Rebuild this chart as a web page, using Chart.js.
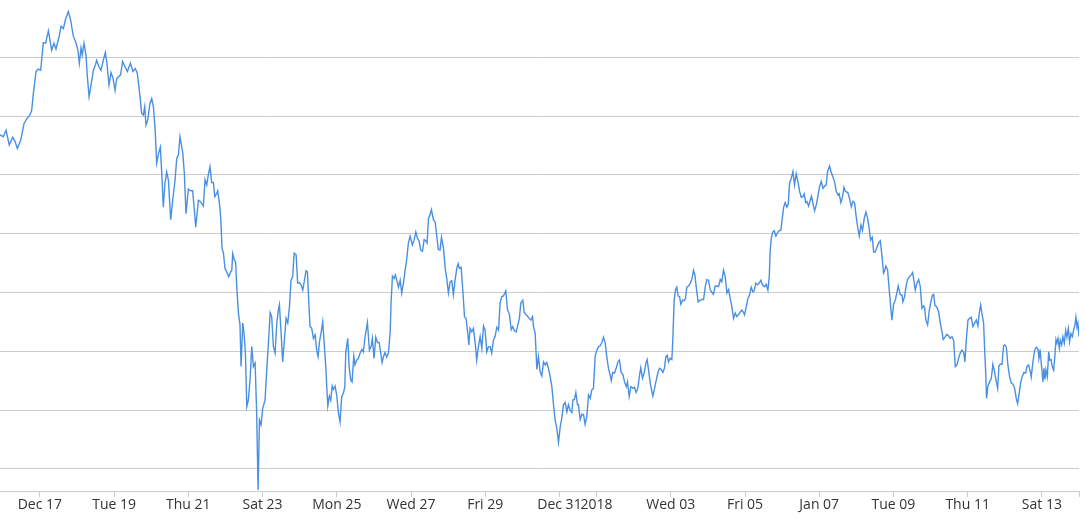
<!DOCTYPE html>
<html>
<head>
<meta charset="utf-8">
<title>Price</title>
<script src="https://cdn.jsdelivr.net/npm/chart.js@4.4.1/dist/chart.umd.min.js"></script>
<style>
  html, body { margin: 0; padding: 0; background: #fff; }
  #wrap { width: 1086px; height: 519px; position: relative; }
</style>
</head>
<body>
<div id="wrap"><canvas id="chart"></canvas></div>
<script>
// hours since Dec 15 00:00
const hours = [
  22.2, 24.3, 26.1, 28.2, 30.4, 31.9, 33.4, 35.6, 37.7, 39.4, 41.6, 42.7, 43.8, 45.5, 47.0, 48.5, 50.2, 51.7, 53.5, 55.6,
  57.1, 58.4, 60.4, 61.7, 63.2, 64.7, 66.4, 67.9, 69.6, 71.4, 72.6, 73.5, 74.6, 75.4, 76.5, 77.8, 78.7, 79.8, 81.1, 82.6,
  83.9, 84.7, 86.2, 87.5, 89.0, 90.3, 91.2, 92.7, 94.0, 95.3, 96.6, 97.7, 99.2, 100.2, 101.5, 103.0, 104.6, 106.5, 108.2, 109.7,
  111.0, 112.3, 113.8, 114.9, 115.8, 116.6, 117.7, 119.2, 120.3, 121.4, 122.5, 123.5, 124.8, 125.9, 126.8, 127.8, 128.9, 130.0, 131.1, 132.6,
  133.9, 135.4, 136.5, 137.6, 138.6,
  140.4, 141.4, 142.5, 144.0, 145.5, 146.8, 147.7, 148.8, 150.5, 152.0, 153.7, 154.8, 155.9, 156.9, 158.0, 159.1, 160.2, 161.1, 162.3, 163.0,
  164.1, 164.9, 165.8, 166.7, 167.7, 168.8, 170.1, 171.4, 172.1, 172.7, 173.8, 174.6, 175.3, 176.4, 177.4, 178.1, 179.2, 180.0, 180.9, 181.8,
  182.8, 183.9, 185.0, 186.1, 187.2, 188.2, 189.1, 190.0, 191.0, 192.1, 193.6, 194.7, 195.8, 196.9, 197.9, 199.0, 200.1, 201.2, 202.2, 202.9,
  204.0, 205.0, 206.1, 207.2, 208.3, 209.4, 210.4, 211.5, 212.4, 213.7, 214.7, 215.8, 216.9, 218.0, 219.1, 220.1, 221.0, 221.9, 222.7, 223.8,
  224.9, 226.0, 227.0, 227.9, 228.8, 229.8, 230.9, 232.0, 232.9, 233.5, 234.2, 235.2, 236.1, 237.0, 237.8, 238.9, 240.0, 241.1, 242.1, 243.2,
  244.3, 245.2, 245.8, 247.1, 248.0, 249.0, 249.9, 251.0, 251.8, 252.9, 254.0, 255.1,
  256.2, 257.2, 258.3, 259.8, 261.1, 262.2, 263.0, 264.1, 265.2, 266.3, 267.4, 268.4, 269.3, 270.2, 271.2, 272.3, 273.4, 274.5, 275.1, 276.0,
  277.1, 277.9, 278.8, 279.9, 281.0, 282.0, 283.1, 284.2, 285.3, 286.3, 287.4, 288.9, 290.0, 291.1, 292.2, 293.2, 294.3, 295.4, 296.5, 297.5,
  298.4, 299.3, 300.3, 301.2, 302.5, 303.6, 304.7, 305.7, 306.8, 307.7, 309.0, 310.1, 311.1, 312.2, 313.3, 314.4, 315.4, 316.5, 317.6, 318.5,
  319.3, 320.4, 321.5, 322.6, 323.6, 324.5, 325.4, 326.2, 327.3, 328.4, 329.5, 330.5, 331.6, 332.7, 333.8, 334.9, 335.9, 337.0, 338.1, 339.2,
  340.2, 341.3, 342.4, 343.5, 344.6, 345.6, 346.7, 347.8, 349.3, 350.4, 351.7, 352.8, 353.8, 354.9, 356.0, 357.1, 358.1, 359.0, 360.3, 361.2,
  362.2, 363.3, 364.4, 365.5, 366.6, 367.2, 368.3, 369.4, 370.4, 371.5,
  372.6, 373.7, 374.8, 375.8, 376.9, 378.0, 379.1, 380.1, 381.2, 382.3, 383.4, 384.5, 385.5, 386.6, 387.7, 388.8, 389.8, 390.9, 392.0, 392.7,
  393.7, 394.6, 395.7, 396.3, 397.4, 398.5, 399.6, 400.6, 401.7, 402.8, 403.9, 404.9, 406.0, 407.1, 408.2, 409.3, 410.3, 411.4, 412.5, 413.6,
  414.6, 415.7, 416.8, 417.5, 418.5, 419.6, 420.7, 421.8, 422.8, 423.9, 425.0, 426.1, 427.2, 428.0, 429.1, 430.2, 431.5, 432.5, 433.6, 434.7,
  435.8, 436.6, 437.7, 438.8, 440.1, 440.7, 441.6, 442.7, 443.8, 444.4, 445.5, 446.6, 447.6, 448.7, 449.8, 450.9, 451.9, 452.8, 453.7, 454.5,
  455.6, 456.7, 457.3, 458.2, 459.1, 459.9, 460.8, 461.7, 462.5, 463.6, 464.7, 465.5, 466.4, 467.5, 468.6, 469.6, 470.7, 471.6, 472.7, 473.7,
  475.0, 476.1, 477.2, 478.3, 479.3, 480.4, 481.5, 482.6, 483.6, 484.7, 485.8, 486.9, 488.0,
  489.0, 490.1, 491.2, 492.3, 493.4, 494.4, 495.5, 496.6, 497.7, 498.7, 499.8, 500.9, 502.0, 503.1, 503.7, 504.8, 505.9, 507.0, 508.0, 509.1,
  510.0, 511.0, 512.1, 513.2, 514.3, 515.3, 516.6, 517.7, 518.8, 519.7, 520.3, 521.0, 522.0, 522.9, 524.0, 525.1, 526.1, 527.2, 528.1, 529.0,
  530.0, 531.1, 532.0, 532.8, 533.9, 535.0, 536.0, 537.1, 538.2, 539.3, 540.4, 541.4, 542.3, 543.2, 544.0, 545.1, 546.2, 547.0, 547.9, 549.0,
  550.1, 551.1, 552.2, 553.3, 554.4, 555.5, 556.5, 557.4, 558.7, 559.8, 560.8, 561.9, 563.0, 564.1, 564.9, 566.0, 567.1, 568.0, 569.0, 570.5,
  571.6, 572.7, 573.8, 574.9, 575.9, 577.0, 577.9, 579.0, 580.0, 581.1, 582.2, 583.3, 584.3, 585.2, 586.3, 587.2, 588.2, 589.3, 590.4, 591.5,
  592.5, 593.6, 594.3, 595.1, 596.2, 597.1, 598.2, 599.0, 600.1, 601.2, 602.3, 603.1, 604.4,
  605.5, 606.1, 607.2, 608.3, 609.1, 610.4, 611.5, 612.4, 613.0, 614.1, 615.2, 616.3, 617.3, 618.4, 619.5, 620.1, 621.0, 622.1, 623.2, 624.2,
  625.3, 626.0, 626.8, 628.1, 629.2, 630.3, 631.4, 632.2, 633.3, 634.6, 635.7, 636.7, 637.8, 638.9, 640.0, 641.1, 642.1, 643.2, 644.3, 645.4,
  646.2, 647.1, 648.2, 649.3, 650.3, 651.4, 652.5, 653.6, 654.6, 655.5, 656.4, 657.2, 658.3, 658.9, 659.6, 660.2, 661.1, 662.2, 663.3, 664.3,
  665.4, 666.3, 667.4, 668.2, 669.1, 670.2, 671.2, 671.9, 673.0, 674.0, 675.1, 676.2, 677.3, 678.4, 679.4, 680.3, 681.2, 682.2, 683.3, 684.4,
  685.5, 686.3, 687.4, 688.5, 689.1, 690.2, 691.3, 692.4, 693.5, 694.1, 695.0, 695.8, 696.7, 697.3, 698.0, 698.6, 699.5, 700.4, 701.0, 701.9,
  702.7, 703.6, 704.4, 705.1, 705.7, 706.4, 707.3, 707.9, 708.8, 709.6, 710.5, 711.4, 712.2, 713.1, 713.9, 714.8, 715.7, 716.5, 717.4, 718.0,
  718.7, 719.3, 720.0
];

const prices = [
  17680, 17650, 17760, 17510, 17640, 17570, 17450, 17590, 17870, 17950, 18020, 18100, 18390, 18760, 18800, 18780, 19250, 19240, 19450, 19120,
  19240, 19140, 19350, 19530, 19490, 19660, 19780, 19630, 19360, 19240, 19120, 18900, 19160, 19040, 19240, 19040, 18670, 18330, 18530, 18780,
  18870, 18950, 18840, 18780, 18950, 19080, 18930, 18530, 18740, 18640, 18440, 18640, 18680, 18700, 18930, 18840, 18760, 18900, 18760, 18810,
  18730, 18440, 18050, 18020, 18160, 17850, 17930, 18220, 18300, 18160, 17790, 17200, 17370, 17470, 17030, 16450, 16860, 17050, 16910, 16240,
  16570, 16910, 17280, 17340, 17650,
  17370, 17030, 16340, 16760, 16730, 16730, 16460, 16110, 16570, 16540, 16470, 16920, 16830, 17000, 17140, 16870, 16870, 16630, 16680, 16730,
  16520, 16290, 15750, 15670, 15410, 15350, 15270, 15350, 15380, 15660, 15550, 15510, 15100, 14650, 14450, 13740, 14480, 14310, 13970, 13060,
  13170, 13510, 14080, 13740, 13800, 12940, 11640, 12830, 12750, 13030, 13170, 13680, 14140, 14660, 14590, 14080, 13970, 14480, 14700, 14790,
  14310, 13820, 14190, 14560, 14480, 14760, 15210, 15270, 15670, 15640, 15160, 15170, 15130, 15040, 15210, 15370, 15350, 14840, 14420, 14390,
  14220, 14280, 14020, 13910, 14160, 14310, 14500, 14080, 13740, 13400, 13070, 13240, 13170, 13410, 13350, 13410, 13240, 12950, 12800, 13230,
  13290, 13400, 13970, 14220, 13740, 13510, 13480, 13920, 13770, 13850, 13880, 13970,
  14030, 13990, 14250, 14490, 14020, 14080, 14220, 13880, 14240, 14150, 14150, 13970, 13810, 13910, 13980, 13900, 13970, 14310, 14820, 15280,
  15240, 15300, 15210, 15090, 15210, 14990, 15160, 15380, 15580, 15840, 15960, 15810, 15890, 16030, 15920, 15880, 15720, 15700, 15900, 15880,
  15840, 16260, 16320, 16410, 16240, 16200, 15950, 15730, 15720, 15940, 15750, 15410, 15240, 14990, 15180, 15200, 14960, 15210, 15410, 15490,
  15410, 15430, 15040, 14590, 14560, 14360, 14110, 14390, 14330, 14390, 14140, 13850, 14080, 14250, 14050, 14430, 14360, 13990, 14080, 14080,
  13970, 14190, 14250, 14410, 14360, 14820, 14930, 14940, 15030, 14710, 14620, 14370, 14420, 14350, 14330, 14450, 14560, 14820, 14870, 14660,
  14630, 14600, 14560, 14530, 14590, 14420, 14310, 13690, 13910, 13650,
  13580, 13820, 13770, 13810, 13710, 13570, 13400, 13110, 12830, 12690, 12450, 12720, 12860, 13090, 13130, 12970, 13090, 13000, 12960, 13170,
  13180, 13300, 13090, 13090, 12840, 12930, 12920, 12760, 12890, 13260, 13200, 13340, 13370, 13920, 14020, 14080, 14090, 14150, 14240, 14140,
  13910, 13710, 13600, 13500, 13640, 13630, 13710, 13820, 13850, 13640, 13610, 13480, 13400, 13480, 13230, 13400, 13370, 13390, 13300, 13370,
  13600, 13720, 13540, 13630, 13820, 13860, 13690, 13460, 13310, 13240, 13370, 13510, 13630, 13710, 13690, 13640, 13710, 13910, 13930, 13820,
  13880, 13860, 14190, 14870, 15050, 15090, 14940, 14930, 14800, 14870, 14860, 14900, 15090, 15110, 15160, 15220, 15380, 15300, 15040, 14840,
  14870, 14880, 14880, 15100, 15220, 15210, 15050, 15000, 14970, 15110, 15110, 15100, 15220,
  15180, 15380, 15270, 14990, 15050, 14900, 14760, 14560, 14650, 14590, 14620, 14670, 14700, 14660, 14620, 14760, 14900, 14960, 15090, 15010,
  15030, 15160, 15130, 15160, 15210, 15130, 15100, 15140, 15040, 15270, 15720, 15920, 16030, 16050, 15960, 16020, 16050, 16060, 16260, 16450,
  16530, 16450, 16500, 16860, 16940, 17060, 16830, 17020, 16890, 16720, 16620, 16630, 16680, 16530, 16550, 16470, 16570, 16640, 16520, 16390,
  16490, 16630, 16800, 16890, 16770, 16810, 16830, 17060, 17150, 17040, 16970, 16890, 16720, 16660, 16680, 16530, 16630, 16790, 16720, 16700,
  16600, 16460, 16550, 16520, 16290, 16090, 15960, 16150, 16060, 16260, 16370, 16260, 16090, 15890, 15940, 15690, 15690, 15770, 15840, 15880,
  15640, 15330, 15370, 15450, 15390, 15100, 14760, 14530, 14800, 14870, 15010, 15110, 14960,
  14960, 14840, 14930, 15130, 15220, 15270, 15300, 15340, 15240, 15040, 15160, 15220, 15110, 14730, 14770, 14750, 14530, 14450, 14700, 14840,
  14960, 14970, 14790, 14750, 14670, 14480, 14330, 14200, 14240, 14290, 14260, 14220, 14250, 14190, 13740, 13770, 13880, 13970, 14020, 13980,
  13820, 14190, 14530, 14560, 14580, 14420, 14480, 14530, 14430, 14650, 14790, 14650, 14480, 14080, 13680, 13200, 13410, 13480, 13540, 13780,
  13650, 13510, 13370, 13750, 13780, 13780, 14090, 14110, 14070, 13770, 13570, 13460, 13440, 13370, 13200, 13110, 13260, 13460, 13570, 13640,
  13630, 13740, 13770, 13650, 13560, 13820, 14020, 14070, 14030, 13880, 13980, 13740, 13480, 13710, 13520, 13690, 13570, 13990, 13850, 13860,
  13740, 13680, 13920, 14200, 14140, 14220, 14050, 14190, 14110, 14250, 14140, 14360, 14240, 14390, 14160, 14300, 14250, 14360, 14450, 14580,
  14410, 14480, 14250
];

// x axis ticks (hours since Dec 15 00:00) and their labels
const tickHours = [48, 96, 144, 192, 240, 288, 336, 384, 408, 456, 504, 552, 600, 648, 696, 720];
const tickLabels = ['Dec 17', 'Tue 19', 'Thu 21', 'Sat 23', 'Mon 25', 'Wed 27', 'Fri 29', 'Dec 31', '2018',
  'Wed 03', 'Fri 05', 'Jan 07', 'Tue 09', 'Thu 11', 'Sat 13', ''];

// horizontal grid lines
const gridValues = [12000, 13000, 14000, 15000, 16000, 17000, 18000, 19000];

const points = hours.map((h, i) => ({ x: h, y: prices[i] }));

new Chart(document.getElementById('chart'), {
  type: 'line',
  data: {
    datasets: [{
      data: points,
      borderColor: '#4a90e2',
      borderWidth: 1.4,
      pointRadius: 0,
      tension: 0,
      fill: false
    }]
  },
  options: {
    responsive: true,
    maintainAspectRatio: false,
    animation: false,
    layout: { padding: { left: 0, right: 7, top: 0, bottom: 5.2 } },
    plugins: {
      legend: { display: false },
      tooltip: { enabled: false }
    },
    scales: {
      x: {
        type: 'linear',
        min: 22.2,
        max: 720,
        afterBuildTicks: axis => { axis.ticks = tickHours.map(v => ({ value: v })); },
        ticks: {
          autoSkip: false,
          maxRotation: 0,
          padding: 0,
          color: '#333',
          font: { family: 'Open Sans', size: 14 },
          callback: (v, i) => tickLabels[i]
        },
        grid: { drawOnChartArea: false, drawTicks: true, tickLength: 6, color: '#ccc' },
        border: { color: '#ccc' }
      },
      y: {
        min: 11624,
        max: 19975,
        afterBuildTicks: axis => { axis.ticks = gridValues.map(v => ({ value: v })); },
        ticks: { display: false },
        grid: { color: '#ccc', drawTicks: false },
        border: { display: false }
      }
    }
  }
});
</script>
</body>
</html>
